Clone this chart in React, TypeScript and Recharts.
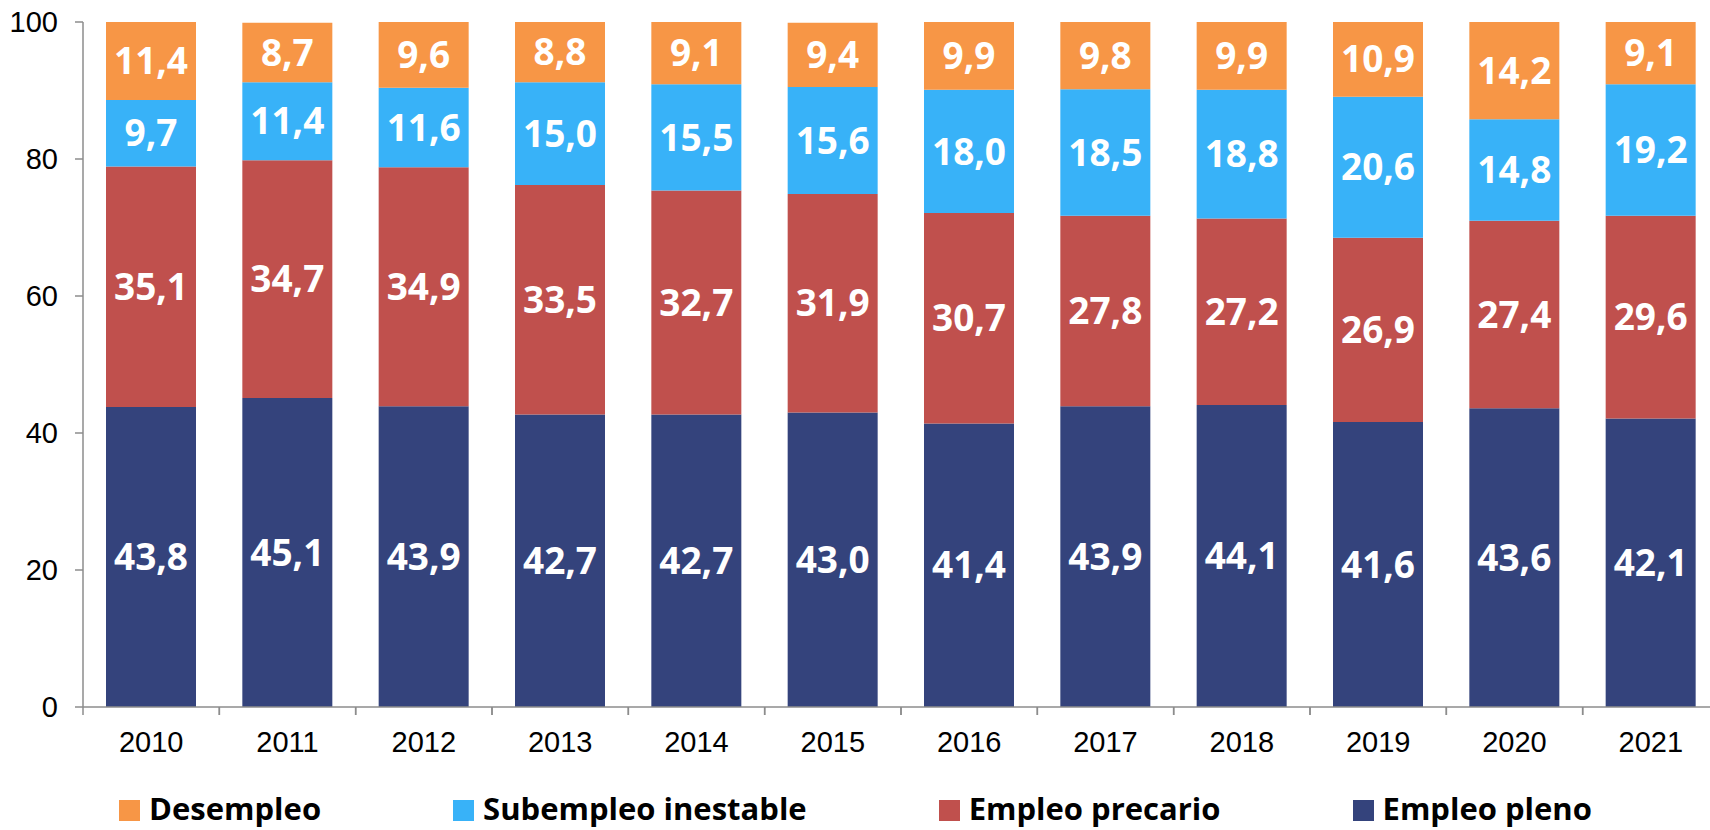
import React from 'react';
import { BarChart, Bar, XAxis, YAxis, Legend, LabelList } from 'recharts';

const years = ['2010', '2011', '2012', '2013', '2014', '2015', '2016', '2017', '2018', '2019', '2020', '2021'];
const empleoPleno = [43.8, 45.1, 43.9, 42.7, 42.7, 43.0, 41.4, 43.9, 44.1, 41.6, 43.6, 42.1];
const empleoPrecario = [35.1, 34.7, 34.9, 33.5, 32.7, 31.9, 30.7, 27.8, 27.2, 26.9, 27.4, 29.6];
const subempleo = [9.7, 11.4, 11.6, 15.0, 15.5, 15.6, 18.0, 18.5, 18.8, 20.6, 14.8, 19.2];
const desempleo = [11.4, 8.7, 9.6, 8.8, 9.1, 9.4, 9.9, 9.8, 9.9, 10.9, 14.2, 9.1];
const yTicks = [0, 20, 40, 60, 80, 100];

const data = years.map((year, i) => ({
  year,
  pleno: empleoPleno[i],
  precario: empleoPrecario[i],
  subempleo: subempleo[i],
  desempleo: desempleo[i],
}));

const legendItems = [
  { name: 'Desempleo', color: '#F79646' },
  { name: 'Subempleo inestable', color: '#38B2F8' },
  { name: 'Empleo precario', color: '#C0504D' },
  { name: 'Empleo pleno', color: '#34437C' },
];

// layout
const CHART_W = 1719;
const CHART_H = 830;
const Y_AXIS_W = 83;
const PLOT_BOTTOM = 707;
const BAND = (CHART_W - Y_AXIS_W) / years.length;
const AXIS_GRAY = '#8c8c8c';
const TICK_FONT = '"Liberation Sans", Arial, sans-serif';

const fmt = (v: any) => Number(v).toFixed(1).replace('.', ',');

const labelStyle = {
  fill: '#ffffff',
  fontSize: 37,
  fontWeight: 700,
  fontFamily: '"Open Sans", sans-serif',
};

const XTick = ({ x, y, payload }: any) => (
  <g>
    <line x1={x - BAND / 2} x2={x - BAND / 2} y1={PLOT_BOTTOM} y2={PLOT_BOTTOM + 8} stroke={AXIS_GRAY} strokeWidth={1.5} />
    <line x1={x + BAND / 2} x2={x + BAND / 2} y1={PLOT_BOTTOM} y2={PLOT_BOTTOM + 8} stroke={AXIS_GRAY} strokeWidth={1.5} />
    <text x={x} y={y} dy="0.71em" textAnchor="middle" fill="#000" fontSize={29} fontFamily={TICK_FONT}>
      {payload.value}
    </text>
  </g>
);

const CustomLegend = () => (
  <div
    style={{
      height: 60,
      boxSizing: 'border-box',
      display: 'flex',
      alignItems: 'flex-end',
      justifyContent: 'center',
      paddingBottom: 4,
      paddingRight: 8,
      gap: 132,
      fontFamily: '"Open Sans", sans-serif',
      fontWeight: 700,
      fontSize: 31,
      lineHeight: '36px',
      color: '#000',
    }}
  >
    {legendItems.map((item) => (
      <div key={item.name} style={{ display: 'flex', alignItems: 'center' }}>
        <span style={{ width: 21, height: 21, background: item.color, display: 'inline-block', marginRight: 9, marginTop: 4 }} />
        <span style={{ whiteSpace: 'nowrap' }}>{item.name}</span>
      </div>
    ))}
  </div>
);

const App: React.FC = () => {
  return (
    <div style={{ position: 'absolute', left: 0, top: 0, width: 1710, height: 830, overflow: 'hidden', background: '#fff' }}>
      <BarChart width={CHART_W} height={CHART_H} data={data} margin={{ top: 22, right: 0, left: 0, bottom: 0 }} barSize={90}>
        <XAxis
          dataKey="year"
          height={63}
          interval={0}
          axisLine={{ stroke: AXIS_GRAY, strokeWidth: 1.5 }}
          tickLine={false}
          tickSize={8}
          tickMargin={16}
          tick={<XTick />}
        />
        <YAxis
          width={Y_AXIS_W}
          domain={[0, 100]}
          ticks={yTicks}
          interval={0}
          axisLine={{ stroke: AXIS_GRAY, strokeWidth: 1.5 }}
          tickLine={{ stroke: AXIS_GRAY, strokeWidth: 1.5 }}
          tickSize={8}
          tickMargin={17}
          tick={{ fill: '#000', fontSize: 29, fontFamily: TICK_FONT }}
        />
        <Legend verticalAlign="bottom" content={<CustomLegend />} />
        <Bar dataKey="pleno" stackId="a" fill="#34437C" isAnimationActive={false}>
          <LabelList dataKey="pleno" position="center" formatter={fmt} style={labelStyle} />
        </Bar>
        <Bar dataKey="precario" stackId="a" fill="#C0504D" isAnimationActive={false}>
          <LabelList dataKey="precario" position="center" formatter={fmt} style={labelStyle} />
        </Bar>
        <Bar dataKey="subempleo" stackId="a" fill="#38B2F8" isAnimationActive={false}>
          <LabelList dataKey="subempleo" position="center" formatter={fmt} style={labelStyle} />
        </Bar>
        <Bar dataKey="desempleo" stackId="a" fill="#F79646" isAnimationActive={false}>
          <LabelList dataKey="desempleo" position="center" formatter={fmt} style={labelStyle} />
        </Bar>
      </BarChart>
    </div>
  );
};

export default App;
